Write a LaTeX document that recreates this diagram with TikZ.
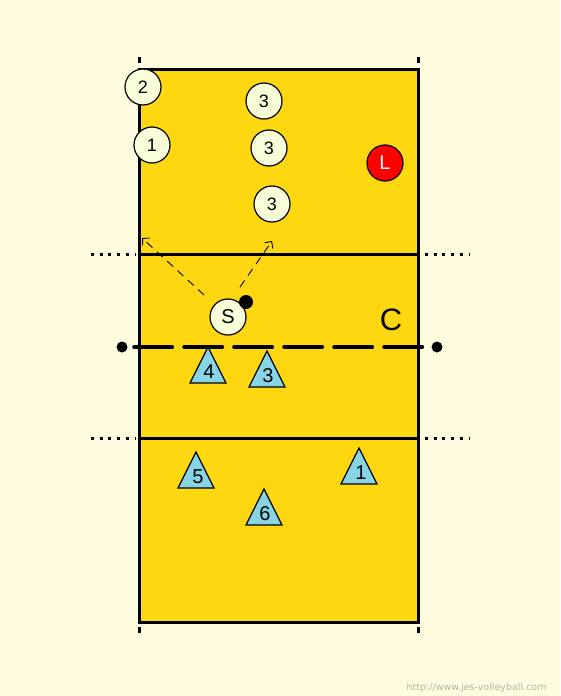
\documentclass[tikz,border=0pt]{standalone}
\usepackage{fontspec}
\setmainfont{Liberation Sans}
\newfontfamily\urlfont{DejaVu Sans}
\usepackage{tikz}
\usetikzlibrary{
  arrows.meta,
  positioning
}
\definecolor{paper}{HTML}{FFFCDF}
\definecolor{courtgold}{HTML}{FFD711}
\definecolor{playercream}{HTML}{F8FFD8}
\definecolor{playerblue}{HTML}{86D4E4}
\definecolor{liberored}{HTML}{FF0000}
\definecolor{urlgray}{HTML}{B4B4A8}

\begin{document}
\begin{tikzpicture}[
  x=1pt, y=-1pt,
  courtline/.style={line width=3pt},
  sideline/.style={line width=3pt, dash pattern=on 3pt off 5.7pt},
  player/.style={
    draw, circle, fill=playercream, line width=1.2pt,
    minimum size=36pt, inner sep=0pt,
    font=\fontsize{18}{18}\selectfont,
  },
  libero/.style={player, fill=liberored, text=white},
  opp/.style={draw, fill=playerblue, line width=1.2pt},
  oppnum/.style={inner sep=0pt, font=\fontsize{20}{20}\selectfont},
  dot/.style={circle, fill=black, inner sep=0pt, minimum size=11pt},
  net/.style={line width=4pt, line cap=round, dash pattern=on 38pt off 12pt},
  arrow/.style={->, >={Straight Barb[length=5pt, width=10pt]}, dash pattern=on 8pt off 6pt, line width=0.9pt},
]

% Paper and court
\fill[paper] (0,0) rectangle (560,696);
\useasboundingbox (0,0) rectangle (560,696);
\fill[courtgold] (139,69) rectangle (418,622);
\draw[courtline] (139,69) rectangle (418,622);
\draw[courtline] (139,254) -- (418,254);
\draw[courtline] (139,438) -- (418,438);

% Ticks and dotted extensions
\draw[courtline] (139,57) -- (139,63);
\draw[courtline] (418,57) -- (418,63);
\draw[courtline] (139,627) -- (139,633);
\draw[courtline] (418,627) -- (418,633);
\draw[sideline] (91,254) -- (136,254);
\draw[sideline] (425,254) -- (470,254);
\draw[sideline] (91,438) -- (136,438);
\draw[sideline] (425,438) -- (470,438);

% Net
\node[dot] (netl) at (122,347) {};
\node[dot] (netr) at (437,347) {};
\draw[net, shorten <=6.5pt, shorten >=7pt] (netl) -- (netr);
\node[font=\fontsize{31}{31}\selectfont] (c) at (391,320) {C};

% Receiving team
\node[player] (p2) at (143,87) {2};
\node[player] (p1) at (152,145) {1};
\node[player] (p3a) at (264,101) {3};
\node[player] (p3b) at (269,148) {3};
\node[player] (p3c) at (272,204) {3};
\node[libero, font=\fontsize{20}{20}\selectfont] (lib) at (385,163) {L};

% Server and ball
\node[player, font=\fontsize{20}{20}\selectfont] (s) at (228,317) {S};
\node[circle, fill=black, inner sep=0pt, minimum size=14pt] (ball) at (246,302) {};
\coordinate (tipa) at (142,238);
\coordinate (taila) at (240,287);
\coordinate (tipb) at (272,241);
\draw[arrow, shorten <=14pt] (s) -- (tipa);
\draw[arrow] (taila) -- (tipb);

% Serving team
\draw[opp] (208,347) -- ++(18,36) -- ++(-36,0) -- cycle;
\draw[opp] (267,351) -- ++(18,36) -- ++(-36,0) -- cycle;
\draw[opp] (196,452) -- ++(18,36) -- ++(-36,0) -- cycle;
\draw[opp] (359,448) -- ++(18,36) -- ++(-36,0) -- cycle;
\draw[opp] (264,489) -- ++(18,36) -- ++(-36,0) -- cycle;
\node[oppnum] (t4) at (209,372) {4};
\node[oppnum] (t3) at (268,376) {3};
\node[oppnum] (t5) at (198,477) {5};
\node[oppnum] (t1) at (361,473) {1};
\node[oppnum] (t6) at (265,514) {6};

\node[anchor=east, text=urlgray, font=\urlfont\fontsize{9.5}{9.5}\selectfont] (url) at (550,688) {http://www.jes-volleyball.com};

\end{tikzpicture}
\end{document}
